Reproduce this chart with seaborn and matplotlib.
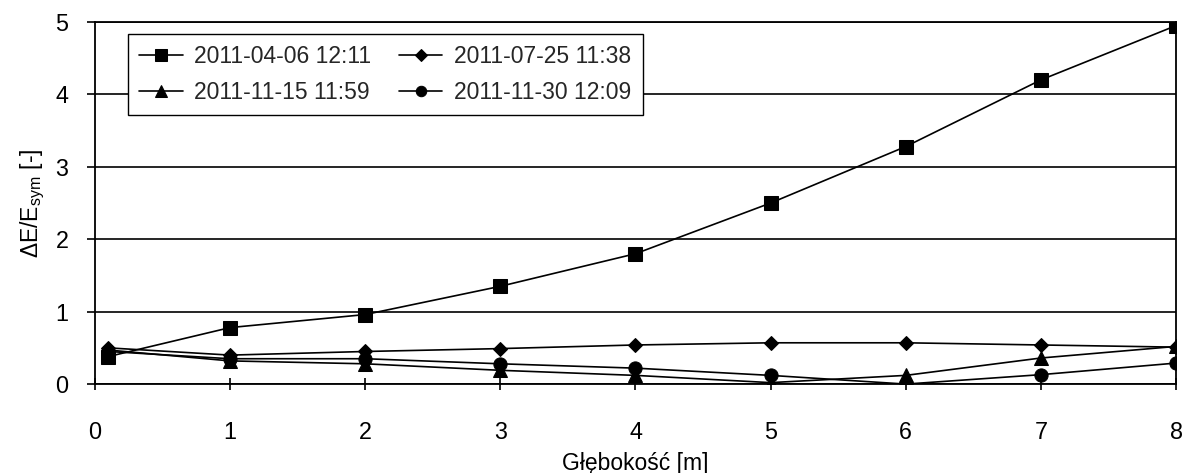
import matplotlib
matplotlib.use("Agg")
import matplotlib.pyplot as plt
import seaborn as sns
import pandas as pd

depth = [0.1, 1, 2, 3, 4, 5, 6, 7, 8]
labels = ["2011-04-06 12:11", "2011-07-25 11:38", "2011-11-15 11:59", "2011-11-30 12:09"]
s_0406 = [0.38, 0.78, 0.96, 1.35, 1.80, 2.50, 3.28, 4.20, 4.95]
s_0725 = [0.50, 0.40, 0.45, 0.49, 0.54, 0.57, 0.57, 0.54, 0.51]
s_1115 = [0.47, 0.32, 0.28, 0.19, 0.12, 0.02, 0.12, 0.36, 0.52]
s_1130 = [0.45, 0.35, 0.35, 0.28, 0.22, 0.12, 0.00, 0.13, 0.29]
series = [s_0406, s_0725, s_1115, s_1130]

rows = []
for lab, vals in zip(labels, series):
    for d, v in zip(depth, vals):
        rows.append({"depth": d, "value": v, "series": lab})
df = pd.DataFrame(rows)

sns.set_theme(style="white")
plt.rcParams["font.family"] = ["Liberation Sans", "DejaVu Sans"]
plt.rcParams["mathtext.fontset"] = "custom"
plt.rcParams["mathtext.rm"] = "Liberation Sans"

fig = plt.figure(figsize=(11.86, 4.73), dpi=100)
ax = fig.add_axes([0.080, 0.188, 0.9116, 0.7655])

markers = {labels[0]: "s", labels[1]: "D", labels[2]: "^", labels[3]: "o"}
sizes = {labels[0]: 10, labels[1]: 7, labels[2]: 9.5, labels[3]: 9.5}
leg_sizes = {labels[0]: 9, labels[1]: 6, labels[2]: 9, labels[3]: 7.5}

for lab in labels:
    sub = df[df["series"] == lab]
    sns.lineplot(data=sub, x="depth", y="value", ax=ax, color="black",
                 marker=markers[lab], markersize=sizes[lab], markeredgecolor="black",
                 linewidth=1.2, label=lab, sort=False)

ax.set_xlim(0, 8)
ax.set_ylim(0, 5)
ax.set_xticks(range(0, 9))
ax.set_yticks(range(0, 6))
ax.yaxis.grid(True, color="black", linewidth=1.2)
ax.xaxis.grid(False)
for sp in ax.spines.values():
    sp.set_color("black")
    sp.set_linewidth(1.3)
ax.tick_params(axis="x", direction="inout", length=9, width=1.2, colors="black",
               labelsize=16.8, pad=22, bottom=True)
ax.tick_params(axis="y", direction="out", length=6, width=1.2, colors="black",
               labelsize=16.8, pad=13, left=True)
ax.set_xlabel("Głębokość [m]", fontsize=16.5, labelpad=6, color="black")
ax.set_ylabel(r"ΔE/E$_{\mathrm{sym}}$ [-]", fontsize=16.5, labelpad=6, color="black")

handles, labs = ax.get_legend_handles_labels()
order = [0, 2, 1, 3]
handles = [handles[i] for i in order]
labs = [labs[i] for i in order]
leg = ax.legend(handles, labs, ncol=2, loc="upper left", bbox_to_anchor=(0.0305, 0.967),
                fontsize=16.5, frameon=True, fancybox=False, handlelength=1.9,
                handletextpad=0.5, columnspacing=1.2, borderpad=0.5, labelspacing=0.55,
                borderaxespad=0)
leg.get_frame().set_edgecolor("black")
leg.get_frame().set_linewidth(1.0)
leg.get_frame().set_alpha(1)
for h, l in zip(leg.legend_handles, labs):
    h.set_markersize(leg_sizes[l])

fig.savefig("out.png", dpi=100)
